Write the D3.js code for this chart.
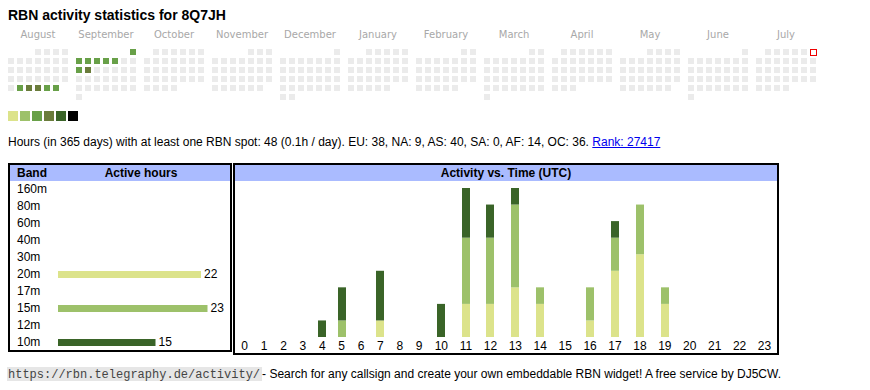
<!DOCTYPE html>
<html><head><meta charset="utf-8">
<script src="https://cdn.jsdelivr.net/npm/d3@7/dist/d3.min.js"></script>
<style>
html,body{margin:0;padding:0;background:#fff;}
svg{display:block;}
</style></head>
<body>
<svg id="c" width="870" height="390"></svg>
<script>
// ---------- DATA ----------
const callsign = "8Q7JH";
const monthNames = ["August","September","October","November","December","January","February","March","April","May","June","July"];
const calendarStart = "2024-08-01";
const todayDate = "2025-07-06";
const activeDates = ["2024-08-27","2024-08-28","2024-08-29","2024-08-30","2024-08-31","2024-09-01","2024-09-02","2024-09-03","2024-09-04","2024-09-05","2024-09-06","2024-09-09","2024-09-10"];
const activeLevels = [2,3,3,2,2,2,2,2,2,2,2,2,3];
const levelColors = ["#dce38b","#9dc16a","#68a048","#6a7c3b","#3a6428","#000000"];

const bands = ["160m","80m","60m","40m","30m","20m","17m","15m","12m","10m"];
const bandHours = [0,0,0,0,0,22,0,23,0,15];

const hourLabels = ["0","1","2","3","4","5","6","7","8","9","10","11","12","13","14","15","16","17","18","19","20","21","22","23"];
const hourly20m = [0,0,0,0,0,0,0,1,0,0,0,2,2,3,2,0,1,4,5,2,0,0,0,0];
const hourly15m = [0,0,0,0,0,1,0,0,0,0,0,4,4,5,1,0,2,2,3,1,0,0,0,0];
const hourly10m = [0,0,0,0,1,2,0,3,0,0,2,3,2,1,0,0,0,1,0,0,0,0,0,0];

const statsText = "Hours (in 365 days) with at least one RBN spot: 48 (0.1h / day). EU: 38, NA: 9, AS: 40, SA: 0, AF: 14, OC: 36. ";
const rankText = "Rank: 27417";
const footerUrl = "https://rbn.telegraphy.de/activity/";
const footerText = " - Search for any callsign and create your own embeddable RBN widget! A free service by DJ5CW.";

// ---------- STYLE ----------
const bandColor = {"20m":"#dce38b","15m":"#9dc16a","10m":"#3a6428"};
const SANS = "'Liberation Sans', Arial, sans-serif";
const FS = 12;
const svg = d3.select("#c");

// Title
svg.append("text").attr("x",8).attr("y",20).attr("font-family",SANS).attr("font-weight","bold")
  .attr("font-size",14).attr("fill","#000").text("RBN activity statistics for " + callsign);

// ---------- CALENDAR ----------
const parse = d3.utcParse("%Y-%m-%d");
const start = parse(calendarStart);
const levelByDay = new Map(activeDates.map((d,i)=>[d, activeLevels[i]]));
const fmt = d3.utcFormat("%Y-%m-%d");
const monthX = d3.scaleLinear().domain([0,1]).range([8,76]);
const colX = d3.scaleLinear().domain([0,1]).range([0,9]);
const rowY = d3.scaleLinear().domain([0,1]).range([49,58]);

const cal = svg.append("g");
monthNames.forEach((name,m)=>{
  const ms = d3.utcMonth.offset(start, m);
  const me = d3.utcMonth.offset(ms, 1);
  const days = d3.utcDay.range(ms, me);
  const firstWd = (ms.getUTCDay()+6)%7;
  const x0 = monthX(m);
  cal.append("text").attr("x", x0 + colX(6)/2 + 3).attr("y",38).attr("text-anchor","middle")
    .attr("font-family","'DejaVu Sans', Verdana, sans-serif").attr("font-size",10).attr("fill","#a8a8a8").text(name);
  cal.selectAll(null).data(days).enter().append("rect")
    .attr("x", d=> x0 + colX((d.getUTCDay()+6)%7) + (fmt(d)===todayDate ? 0.5 : 0))
    .attr("y", d=> rowY(Math.floor((d.getUTCDate()-1+firstWd)/7)) + (fmt(d)===todayDate ? 0.5 : 0))
    .attr("width",6).attr("height",6)
    .attr("fill", d=> { if (fmt(d)===todayDate) return "#fff"; const l = levelByDay.get(fmt(d)); return l===undefined ? "#ebebeb" : levelColors[l]; })
    .attr("stroke", d=> fmt(d)===todayDate ? "#ee0000" : null)
    .attr("stroke-width", 1);
});

// Legend
svg.append("g").selectAll("rect").data(levelColors).enter().append("rect")
  .attr("x",(d,i)=>8+i*12).attr("y",111).attr("width",10).attr("height",10).attr("fill",d=>d);

// Stats line
const st = svg.append("text").attr("x",8).attr("y",146).attr("font-family",SANS).attr("font-size",FS).attr("fill","#000");
st.append("tspan").text(statsText);
const rk = st.append("tspan").attr("fill","#0000ee").text(rankText);
{
  const full = st.node().getComputedTextLength();
  const rkw = rk.node().getComputedTextLength();
  svg.append("line").attr("x1",8+full-rkw).attr("x2",8+full).attr("y1",147.5).attr("y2",147.5)
    .attr("stroke","#0000ee").attr("stroke-width",1);
}

// ---------- LEFT TABLE ----------
const lt = svg.append("g");
lt.append("rect").attr("x",10).attr("y",165).attr("width",220).attr("height",16).attr("fill","#aabbff");
lt.append("rect").attr("x",9).attr("y",164).attr("width",222).attr("height",187)
  .attr("fill","none").attr("stroke","#000").attr("stroke-width",2);
lt.append("text").attr("x",17).attr("y",177).attr("font-family",SANS).attr("font-weight","bold").attr("font-size",FS).text("Band");
lt.append("text").attr("x",141).attr("y",177).attr("text-anchor","middle").attr("font-family",SANS).attr("font-weight","bold").attr("font-size",FS).text("Active hours");

const rowBase = d3.scaleLinear().domain([0,1]).range([193,210]);
const hx = d3.scaleLinear().domain([0,23]).range([58,207.5]);
lt.selectAll(".bl").data(bands).enter().append("text")
  .attr("x",17).attr("y",(d,i)=>rowBase(i)).attr("font-family",SANS).attr("font-size",FS).text(d=>d);
const bandData = bands.map((b,i)=>({b, v:bandHours[i], i})).filter(d=>d.v>0);
lt.selectAll(".bb").data(bandData).enter().append("rect")
  .attr("x",hx(0)).attr("y",d=>rowBase(d.i)-7).attr("width",d=>hx(d.v)-hx(0)).attr("height",7)
  .attr("fill",d=>bandColor[d.b]);
lt.selectAll(".bv").data(bandData).enter().append("text")
  .attr("x",d=>hx(d.v)+3).attr("y",d=>rowBase(d.i)).attr("font-family",SANS).attr("font-size",FS).text(d=>d.v);

// ---------- RIGHT TABLE ----------
const rt = svg.append("g");
rt.append("rect").attr("x",235).attr("y",165).attr("width",542).attr("height",16).attr("fill","#aabbff");
rt.append("rect").attr("x",234).attr("y",164).attr("width",544).attr("height",190)
  .attr("fill","none").attr("stroke","#000").attr("stroke-width",2);
rt.append("text").attr("x",506).attr("y",177).attr("text-anchor","middle").attr("font-family",SANS)
  .attr("font-weight","bold").attr("font-size",FS).text("Activity vs. Time (UTC)");

// Auto-width table columns: width proportional to label width + padding (like an HTML table)
const meas = svg.append("text").attr("font-family",SANS).attr("font-size",FS).attr("opacity",0);
const colW = hourLabels.map(h => { meas.text(h); return meas.node().getComputedTextLength() + 16.7; });
meas.remove();
const totalW = d3.sum(colW);
const innerX0 = 235, innerX1 = 777;
const k = (innerX1 - innerX0) / totalW;
const cum = d3.cumsum(colW);
const xCenter = d3.scaleOrdinal().domain(hourLabels)
  .range(hourLabels.map((h,i)=> innerX0 + (cum[i] - colW[i]/2) * k));

const yh = d3.scaleLinear().domain([0,9]).range([337,188]);
const table = hourLabels.map((h,i)=>({h, "20m":hourly20m[i], "15m":hourly15m[i], "10m":hourly10m[i]}));
const stack = d3.stack().keys(["20m","15m","10m"])(table);
rt.selectAll(".s").data(stack).enter().append("g").attr("fill",d=>bandColor[d.key])
  .selectAll("rect").data(d=>d.filter(p=>p[1]>p[0])).enter().append("rect")
  .attr("x",d=>Math.round(xCenter(d.data.h))-4).attr("width",8)
  .attr("y",d=>yh(d[1])).attr("height",d=>yh(d[0])-yh(d[1]));

rt.selectAll(".hl").data(hourLabels).enter().append("text")
  .attr("x",d=>xCenter(d)).attr("y",349.5).attr("text-anchor","middle")
  .attr("font-family",SANS).attr("font-size",FS).attr("fill","#000").text(d=>d);

// ---------- FOOTER ----------
const fg = svg.append("g");
const bg = fg.append("rect").attr("x",7).attr("y",367).attr("height",14).attr("fill","#e6e6e6");
const fu = fg.append("text").attr("x",8).attr("y",378).attr("font-family","'Liberation Mono', monospace")
  .attr("font-size",12).attr("fill","#444").text(footerUrl);
const fuw = fu.node().getComputedTextLength();
bg.attr("width",fuw+3);
fg.append("text").attr("x",8+fuw+2).attr("y",378).attr("font-family",SANS).attr("font-size",12).attr("fill","#000").text(footerText);
</script>
</body></html>
